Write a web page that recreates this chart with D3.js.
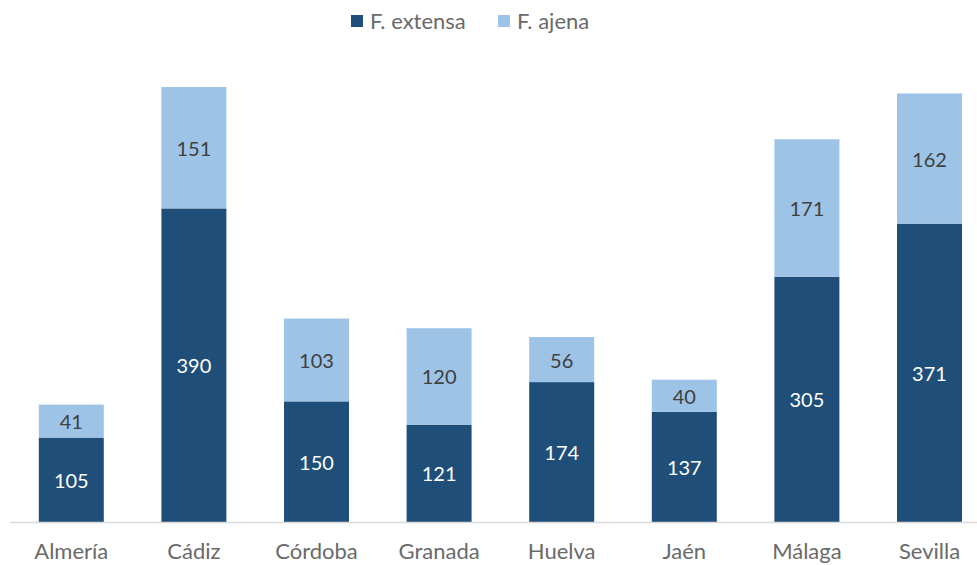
<!DOCTYPE html>
<html>
<head>
<meta charset="utf-8">
<script src="https://cdn.jsdelivr.net/npm/d3@7"></script>
<style>
  body { margin: 0; background: #fff; }
  svg { font-family: Lato, "Open Sans", sans-serif; }
</style>
</head>
<body>
<svg class="d3" width="977" height="565"></svg>
<script>
var provincias = ["Almería", "Cádiz", "Córdoba", "Granada", "Huelva", "Jaén", "Málaga", "Sevilla"];
var extensa = [105, 390, 150, 121, 174, 137, 305, 371];
var ajena = [41, 151, 103, 120, 56, 40, 171, 162];
var series = ["F. extensa", "F. ajena"];

var colors = ["#1f4e79", "#9dc3e6"];
var labelColors = ["#ffffff", "#404040"];

var svg = d3.select("svg.d3"),
    width = +svg.attr("width"),
    height = +svg.attr("height");

var x = d3.scaleBand()
    .domain(provincias)
    .range([10, 990.8])
    .paddingInner(0.47)
    .paddingOuter(0.235);

// Cádiz total 541 reaches y=87
var y = d3.scaleLinear()
    .domain([0, 541])
    .range([522, 87]);

var rows = provincias.map(function(p, i) {
  return { provincia: p, extensa: extensa[i], ajena: ajena[i] };
});

var stack = d3.stack().keys(["extensa", "ajena"]);
var layers = stack(rows);

var layer = svg.append("g").selectAll("g")
    .data(layers)
  .enter().append("g")
    .attr("fill", function(d, i) { return colors[i]; });

layer.selectAll("rect")
    .data(function(d) { return d; })
  .enter().append("rect")
    .attr("x", function(d) { return x(d.data.provincia); })
    .attr("width", x.bandwidth())
    .attr("y", function(d) { return y(d[1]); })
    .attr("height", function(d) { return y(d[0]) - y(d[1]); });

// value labels
layer.each(function(L, li) {
  d3.select(this).selectAll("text")
      .data(L)
    .enter().append("text")
      .attr("x", function(d) { return x(d.data.provincia) + x.bandwidth() / 2; })
      .attr("y", function(d) { return (y(d[0]) + y(d[1])) / 2 + 1; })
      .attr("dy", "0.35em")
      .attr("text-anchor", "middle")
      .attr("font-size", 20)
      .attr("fill", labelColors[li])
      .text(function(d) { return d[1] - d[0]; });
});

// x axis
var xAxis = svg.append("g")
    .attr("transform", "translate(0,522)")
    .call(d3.axisBottom(x).tickSize(0).tickPadding(21));
xAxis.select(".domain").attr("d", "M10,0.5H977").attr("stroke", "#d9d9d9").attr("stroke-width", 1.5);
xAxis.selectAll("text")
    .attr("font-family", "Lato, 'Open Sans', sans-serif")
    .attr("font-size", 22)
    .attr("fill", "#6a6a6a");

// legend
var legendX = [351, 498];
var legend = svg.append("g").selectAll("g")
    .data(series)
  .enter().append("g")
    .attr("transform", function(d, i) { return "translate(" + legendX[i] + ",15)"; });
legend.append("rect")
    .attr("width", 12)
    .attr("height", 12)
    .attr("fill", function(d, i) { return colors[i]; });
legend.append("text")
    .attr("x", 19)
    .attr("y", 6)
    .attr("dy", "0.35em")
    .attr("font-size", 22)
    .attr("fill", "#6a6a6a")
    .text(function(d) { return d; });
</script>
</body>
</html>
